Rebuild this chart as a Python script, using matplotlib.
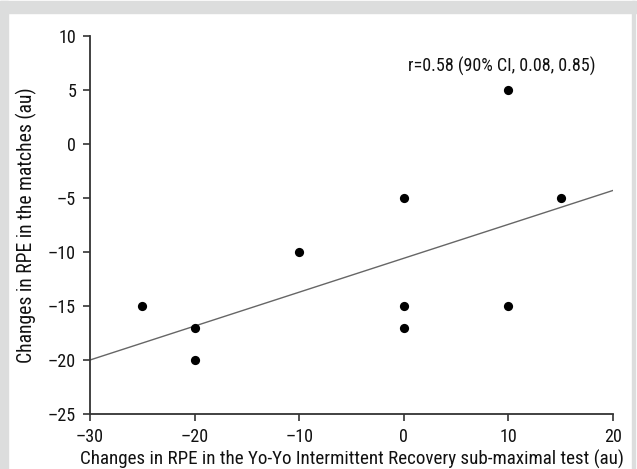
import matplotlib
matplotlib.use("Agg")
import matplotlib.pyplot as plt
from matplotlib import font_manager
from matplotlib.patches import Rectangle

# data
rpe_yoyo = [-25, -20, -20, -10, 0, 0, 0, 10, 10, 15]
rpe_match = [-15, -17, -20, -10, -5, -15, -17, 5, -15, -5]
fit_x = [-30, 20]
fit_y = [-20.0, -4.3]
xticks = [-30, -20, -10, 0, 10, 20]
yticks = [10, 5, 0, -5, -10, -15, -20, -25]

# the reference uses a narrow font, take one if there is one
names = set(f.name for f in font_manager.fontManager.ttflist)
family = 'Liberation Sans'
for cand in ['Roboto Condensed', 'Liberation Sans Narrow', 'Open Sans Condensed',
             'Noto Sans Condensed', 'DejaVu Sans Condensed']:
    if cand in names:
        family = cand
        break
plt.rcParams['font.family'] = [family, 'DejaVu Sans']


def lab(v):
    # long minus as in the reference
    return ('\u2013' + str(-v)) if v < 0 else str(v)


W, H = 637, 469
fig = plt.figure(figsize=(W / 100, H / 100), dpi=100)
fig.patch.set_facecolor('white')

# grey frame around the figure
grey = '#dcdddd'
fig.patches.append(Rectangle((0, 1 - 13 / H), 1, 12 / H, transform=fig.transFigure,
                             color=grey, zorder=0))
fig.patches.append(Rectangle((0, 0), 8 / W, 1 - 1 / H, transform=fig.transFigure,
                             color=grey, zorder=0))
fig.patches.append(Rectangle((1 - 5 / W, 0), 3 / W, 1 - 1 / H, transform=fig.transFigure,
                             color=grey, zorder=0))

ax = fig.add_axes([90 / W, 1 - 414 / H, (613 - 90) / W, (414 - 36) / H])
ax.set_facecolor('none')

ax.plot(fit_x, fit_y, color='#666666', lw=1.0, zorder=2)
ax.scatter(rpe_yoyo, rpe_match, s=44, color='black', zorder=3, linewidths=0)

ax.set_xlim(-30, 20)
ax.set_ylim(-25, 10)
ax.set_xticks(xticks)
ax.set_yticks(yticks)
ax.set_xticklabels([lab(v) for v in xticks])
ax.set_yticklabels([lab(v) for v in yticks])

for s in ['top', 'right']:
    ax.spines[s].set_visible(False)
for s in ['left', 'bottom']:
    ax.spines[s].set_linewidth(1.3)
    ax.spines[s].set_color('#333333')
ax.tick_params(direction='out', length=5, width=1.2, labelsize=13, pad=5, colors='#333333')
ax.tick_params(labelcolor='#111111')

xl = ax.set_xlabel('Changes in RPE in the Yo-Yo Intermittent Recovery sub-maximal test (au)',
                   fontsize=11.5, labelpad=3, color='#111111')
yl = ax.set_ylabel('Changes in RPE in the matches (au)', fontsize=11.5, labelpad=8,
                   color='#111111')

ann = ax.text(9.35, 6.3, 'r=0.58 (90% CI, 0.08, 0.85)', fontsize=11, ha='center', va='bottom',
              color='#111111')

# size the texts to the lengths they have in the reference
fig.canvas.draw()
r = fig.canvas.get_renderer()
xl.set_fontsize(11.5 * 544 / xl.get_window_extent(r).width)
yl.set_fontsize(11.5 * 275 / yl.get_window_extent(r).height)
ann.set_fontsize(11 * 189 / ann.get_window_extent(r).width)

fig.savefig('out.png', dpi=100)
